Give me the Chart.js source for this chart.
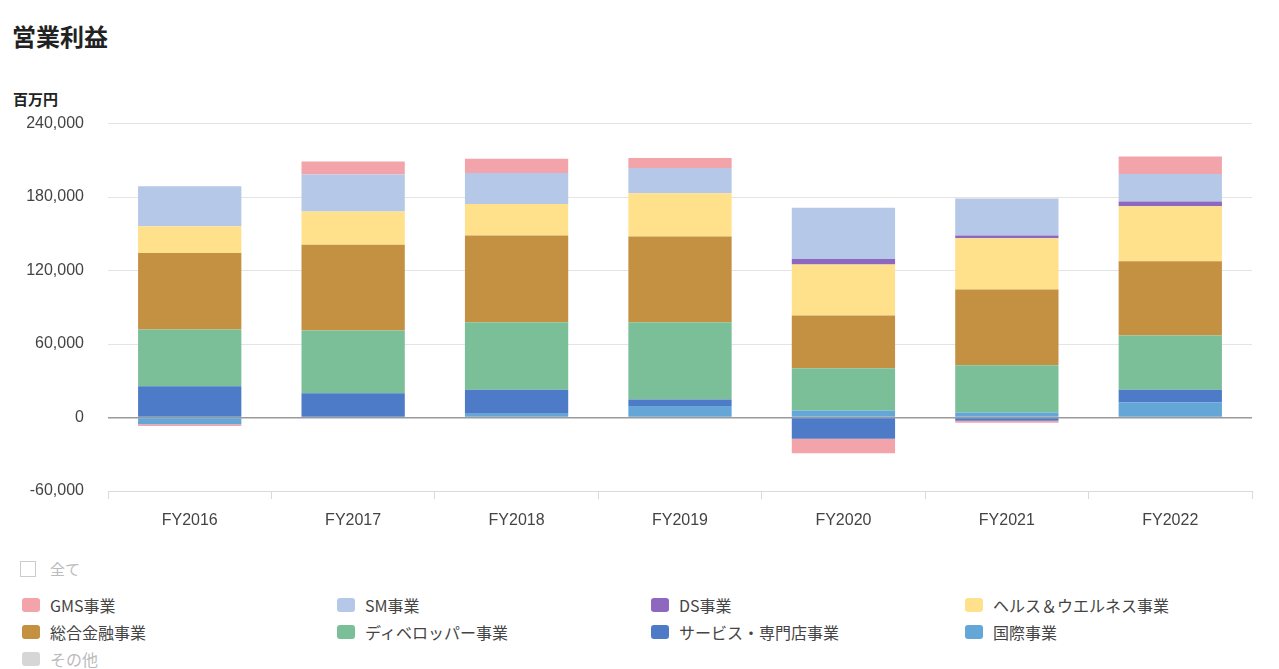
<!DOCTYPE html>
<html lang="ja">
<head>
<meta charset="utf-8">
<script src="https://cdn.jsdelivr.net/npm/chart.js@4/dist/chart.umd.min.js"></script>
<style>
  html, body { margin: 0; padding: 0; background: #fff; }
  body { width: 1279px; height: 669px; position: relative; overflow: hidden;
         font-family: "Liberation Sans", "Noto Sans CJK JP", sans-serif; }
  #title { position: absolute; left: 12px; top: 20px; font-size: 24px; font-weight: 700;
           color: #222; font-family: "Noto Sans CJK JP", sans-serif; line-height: 32px; }
  #unit { position: absolute; left: 13px; top: 89px; font-size: 15px; font-weight: 700;
          color: #222; font-family: "Noto Sans CJK JP", sans-serif; line-height: 20px; }
  #wrap { position: absolute; left: 0; top: 90px; width: 1279px; height: 450px; }
  #all { position: absolute; left: 20px; top: 558px; font-size: 15px; color: #bbb;
         font-family: "Noto Sans CJK JP", sans-serif; display: flex; align-items: center; }
  #all .box { width: 14px; height: 14px; border: 1px solid #ccc; margin-right: 14px; }
  #legend { position: absolute; left: 22px; top: 591px; width: 1257px;
            display: grid; grid-template-columns: 315px 314px 314px 314px; grid-auto-rows: 27px;
            font-family: "Noto Sans CJK JP", sans-serif; font-size: 16px; color: #444; }
  #legend .item { display: flex; align-items: center; white-space: nowrap; }
  #legend .sw { width: 18px; height: 14px; border-radius: 3px; margin-right: 10px; }
  #legend .off { color: #bbb; }
</style>
</head>
<body>
<div id="title">営業利益</div>
<div id="unit">百万円</div>
<div id="wrap"><canvas id="c"></canvas></div>
<div id="all"><span class="box"></span>全て</div>
<div id="legend"></div>
<script>
const categories = ["FY2016", "FY2017", "FY2018", "FY2019", "FY2020", "FY2021", "FY2022"];

// values in millions of yen
const kokusai    = [-5500,     0,  3000,  9500,  5700,  4000, 12500];   // 国際事業
const service    = [25600, 19900, 19600,  5200, -17400, -2700, 10100];  // サービス・専門店事業
const developer  = [46200, 51100, 55200, 63100, 34600, 38600, 44300];   // ディベロッパー事業
const kinyu      = [62600, 70000, 70800, 70000, 43000, 62000, 60700];   // 総合金融事業
const health     = [21800, 27200, 25800, 35300, 41600, 41700, 44900];   // ヘルス＆ウエルネス事業
const ds         = [    0,     0,     0,     0,  4600,  2400,  3800];   // DS事業
const sm         = [32600, 30200, 25300, 20700, 41700, 30200, 22600];   // SM事業
const gms        = [-1500, 10600, 11500,  8200, -11700, -1500, 14200];  // GMS事業
const sonota     = [null, null, null, null, null, null, null];          // その他 (hidden)

const yTicks = { min: -60000, max: 240000, step: 60000 };

// stacking order (bottom to top) and legend order
const series = [
  { label: "国際事業",               data: kokusai,   color: "#64A6D6" },
  { label: "サービス・専門店事業",     data: service,   color: "#4E7BC8" },
  { label: "ディベロッパー事業",       data: developer, color: "#7BBF98" },
  { label: "総合金融事業",            data: kinyu,     color: "#C49142" },
  { label: "ヘルス＆ウエルネス事業",   data: health,    color: "#FFE08B" },
  { label: "DS事業",                 data: ds,        color: "#8D68BE" },
  { label: "SM事業",                 data: sm,        color: "#B5C8E8" },
  { label: "GMS事業",                data: gms,       color: "#F3A4AB" },
  { label: "その他",                 data: sonota,    color: "#D6D6D6", hidden: true }
];
const legendOrder = ["GMS事業", "SM事業", "DS事業", "ヘルス＆ウエルネス事業",
                     "総合金融事業", "ディベロッパー事業", "サービス・専門店事業", "国際事業", "その他"];

const chart = new Chart(document.getElementById("c"), {
  type: "bar",
  data: {
    labels: categories,
    datasets: series.map(s => ({
      label: s.label, data: s.data, backgroundColor: s.color,
      borderWidth: 0, hidden: !!s.hidden, stack: "s",
      categoryPercentage: 0.8, barPercentage: 0.79
    }))
  },
  options: {
    responsive: true, maintainAspectRatio: false, animation: false,
    layout: { padding: { top: 13, right: 27, left: 0, bottom: 0 } },
    plugins: { legend: { display: false }, tooltip: { enabled: false } },
    scales: {
      x: {
        stacked: true,
        grid: { offset: true, drawOnChartArea: false, drawTicks: true, tickLength: 8, color: "#d9d9d9" },
        border: { display: true, color: "#d9d9d9" },
        ticks: { color: "#444", font: { size: 16, family: "Liberation Sans" }, padding: 12 },
        afterFit: s => { s.height = 49; }
      },
      y: {
        stacked: true,
        min: yTicks.min, max: yTicks.max,
        ticks: { stepSize: yTicks.step, color: "#444", padding: 24,
                 font: { size: 16, family: "Liberation Sans" },
                 callback: v => v.toLocaleString("en-US") },
        grid: { drawTicks: false, color: ctx => ctx.tick && ctx.tick.value === 0 ? "#9a9a9a" : "#e4e4e4",
                lineWidth: ctx => ctx.tick && ctx.tick.value === 0 ? 1.5 : 1 },
        border: { display: false },
        afterFit: s => { s.width = 108; }
      }
    }
  }
});

const lg = document.getElementById("legend");
legendOrder.forEach(name => {
  const s = series.find(x => x.label === name);
  const d = document.createElement("div");
  d.className = "item" + (s.hidden ? " off" : "");
  d.innerHTML = '<span class="sw" style="background:' + s.color + '"></span>' + s.label;
  lg.appendChild(d);
});
</script>
</body>
</html>
